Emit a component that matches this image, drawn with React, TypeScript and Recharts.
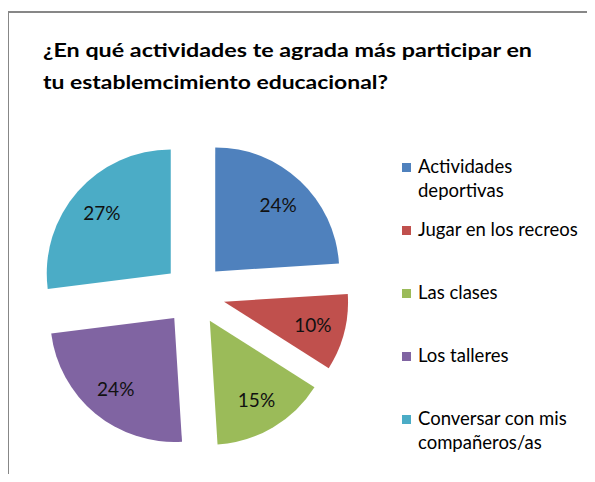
import { PieChart, Pie, Cell, Legend } from 'recharts';

// datos de la encuesta
const categories = [
  'Actividades deportivas',
  'Jugar en los recreos',
  'Las clases',
  'Los talleres',
  'Conversar con mis compañeros/as',
];
const values = [24, 10, 15, 24, 27];
const colors = ['#4F81BD', '#C0504D', '#9BBB59', '#8064A2', '#4BACC6'];
const legendLines = [
  ['Actividades', 'deportivas'],
  ['Jugar en los recreos'],
  ['Las clases'],
  ['Los talleres'],
  ['Conversar con mis', 'compañeros/as'],
];
const titleLines = [
  '¿En qué actividades te agrada más participar en',
  'tu establemcimiento educacional?',
];

const W = 595;
const H = 482;
const CX = 194;
const CY = 294;
const R = 124;
const EXPLODE = 31;
const RAD = Math.PI / 180;
const FONT = 'Lato, "Open Sans", sans-serif';

const data = categories.map((name, i) => ({ name, value: values[i] }));
const total = values.reduce((s, v) => s + v, 0);

// desplazamiento de cada porción (pastel explotado)
let acc = 0;
const offsets = values.map((v) => {
  const mid = 90 - (360 * (acc + v / 2)) / total;
  acc += v;
  return { dx: EXPLODE * Math.cos(mid * RAD), dy: -EXPLODE * Math.sin(mid * RAD) };
});

const renderLabel = (slice: number) => (props: any) => {
  if (props.index !== slice) return null;
  const r = props.outerRadius * 0.74;
  const x = props.cx + r * Math.cos(-props.midAngle * RAD);
  const y = props.cy + r * Math.sin(-props.midAngle * RAD);
  return (
    <text
      x={x}
      y={y}
      textAnchor="middle"
      dominantBaseline="central"
      fontFamily={FONT}
      fontSize={19}
      fill="#111"
    >
      {`${Math.round(props.percent * 100)}%`}
    </text>
  );
};

const LegendContent = () => (
  <svg width={W} height={H} style={{ display: 'block' }}>
    {legendLines.map((lines, i) => {
      const base = 173 + i * 63;
      return (
        <g key={i}>
          <rect x={402} y={base - 10} width={9} height={9} fill={colors[i]} />
          {lines.map((ln, j) => (
            <text key={j} x={418} y={base + j * 24} fontFamily={FONT} fontSize={18.5} fill="#000">
              {ln}
            </text>
          ))}
        </g>
      );
    })}
  </svg>
);

export default function App() {
  return (
    <div
      style={{
        position: 'relative',
        width: W,
        height: H,
        margin: -8,
        overflow: 'hidden',
        background: '#fff',
      }}
    >
      <div
        style={{
          position: 'absolute',
          left: 7,
          top: 11,
          width: 620,
          height: 520,
          borderTop: '2px solid #878787',
          borderLeft: '2px solid #878787',
        }}
      />
      <svg width={W} height={H} style={{ position: 'absolute', left: 0, top: 0 }}>
        <text x={43} y={57} fontFamily={FONT} fontWeight={700} fontSize={19} fill="#000" textLength={489} lengthAdjust="spacingAndGlyphs">
          {titleLines[0]}
        </text>
        <text x={43} y={89} fontFamily={FONT} fontWeight={700} fontSize={19} fill="#000" textLength={345} lengthAdjust="spacingAndGlyphs">
          {titleLines[1]}
        </text>
      </svg>
      <div style={{ position: 'absolute', left: 0, top: 0 }}>
        <PieChart width={W} height={H} margin={{ top: 0, right: 0, bottom: 0, left: 0 }}>
          {offsets.map((o, s) => (
            <Pie
              key={s}
              data={data}
              dataKey="value"
              nameKey="name"
              cx={CX + o.dx}
              cy={CY + o.dy}
              outerRadius={R}
              startAngle={90}
              endAngle={-270}
              stroke="none"
              labelLine={false}
              label={renderLabel(s)}
              isAnimationActive={false}
            >
              {data.map((_, i) => (
                <Cell key={i} fill={i === s ? colors[i] : 'transparent'} />
              ))}
            </Pie>
          ))}
          <Legend
            content={LegendContent}
            wrapperStyle={{ position: 'absolute', left: 0, top: 0, width: W, height: H }}
          />
        </PieChart>
      </div>
    </div>
  );
}
